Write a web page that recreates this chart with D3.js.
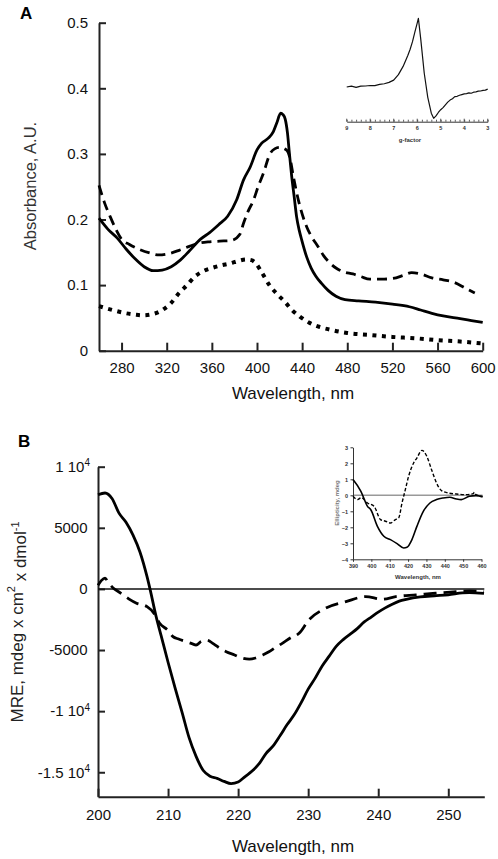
<!DOCTYPE html>
<html><head><meta charset="utf-8">
<script src="https://cdn.jsdelivr.net/npm/d3@7"></script>
<style>body{margin:0;background:#fff;} text{font-family:"Liberation Sans",Arial,sans-serif;}</style>
</head><body><script>
// ---------- Panel A : absorbance ----------
const solidA_x = [260,268,276,284,292,300,308,316,324,332,340,350,358,366,374,382,388,394,400,404,410,414.5,417.5,421,423,425,427,428.7,430.8,433,435.1,437.5,439.6,444,448,452,457,463,470,478,490,505,520,535,545,555,565,580,590,600];
const solidA_y = [0.202,0.185,0.172,0.155,0.14,0.128,0.122,0.123,0.128,0.138,0.152,0.17,0.18,0.192,0.205,0.23,0.26,0.28,0.306,0.316,0.324,0.334,0.347,0.362,0.36,0.353,0.332,0.301,0.265,0.234,0.204,0.183,0.169,0.143,0.126,0.114,0.103,0.092,0.083,0.078,0.076,0.074,0.071,0.067,0.062,0.057,0.053,0.049,0.046,0.043];
const dashA_x = [260,265,270,275,280,287,295,305,313,322,331,340,349,358,367,377,385,388,392,397,401,405.6,411.5,416,420,426,429,432.3,436.6,444,449,454,459,465,471,477,485,492,500,510,520,530,537,545,555,565,575,585,593];
const dashA_y = [0.252,0.225,0.204,0.185,0.17,0.162,0.155,0.149,0.146,0.148,0.153,0.159,0.164,0.166,0.167,0.168,0.178,0.194,0.212,0.23,0.25,0.27,0.3,0.308,0.31,0.306,0.295,0.265,0.23,0.189,0.172,0.159,0.145,0.133,0.125,0.12,0.117,0.113,0.109,0.109,0.11,0.115,0.119,0.117,0.111,0.108,0.104,0.095,0.088];
const dotA_x = [260,272,284,292,299,308,317,324,331,338,345,352,360,368,376,384,390,395,398,404,411,418,425,431,438,446,454,465,480,500,520,540,560,580,600];
const dotA_y = [0.068,0.062,0.057,0.055,0.054,0.056,0.063,0.073,0.088,0.1,0.113,0.121,0.126,0.13,0.133,0.137,0.139,0.138,0.135,0.12,0.1,0.086,0.074,0.062,0.052,0.043,0.037,0.032,0.027,0.024,0.021,0.019,0.016,0.014,0.011];
const ticksA_y = [0,0.1,0.2,0.3,0.4,0.5];
const ticksA_yLabels = ["0","0.1","0.2","0.3","0.4","0.5"];
const ticksA_x = [280,320,360,400,440,480,520,560,600];

// EPR inset
const epr_g = [9.0,8.8,8.6,8.4,8.2,8.0,7.8,7.6,7.4,7.2,7.0,6.8,6.6,6.4,6.3,6.2,6.1,6.0,5.95,5.85,5.7,5.55,5.4,5.3,5.2,5.1,5.0,4.9,4.8,4.7,4.6,4.5,4.4,4.3,4.2,4.1,4.0,3.9,3.8,3.7,3.6,3.5,3.4,3.3,3.2,3.1,3.0];
const epr_I = [0.0,0.012,-0.004,0.012,0.015,0.022,0.02,0.038,0.048,0.068,0.1,0.18,0.3,0.46,0.55,0.66,0.8,0.93,1.0,0.7,0.2,-0.15,-0.38,-0.455,-0.42,-0.37,-0.33,-0.3,-0.26,-0.22,-0.19,-0.17,-0.14,-0.135,-0.12,-0.11,-0.1,-0.095,-0.085,-0.09,-0.075,-0.07,-0.06,-0.058,-0.048,-0.045,-0.03];
const epr_ticks = [9,8,7,6,5,4,3];

// ---------- Panel B : CD far-UV ----------
const solidB_x = [200,201,202,203,204,205,206,207,207.5,208.3,209,210,211,212,213,214,215,216,217,218,219,220,221,222,223,224,225,226,227,228,229,230,231,232,233,234,235,236,237,238,239,240,241,242,243,244,246,248,250,252,253,255.1];
const solidB_y = [7700,7850,7400,6200,5450,4400,3000,1000,-200,-2270,-3800,-6000,-8100,-10100,-12170,-13700,-14840,-15330,-15500,-15750,-15930,-15800,-15350,-14900,-14300,-13450,-12850,-12000,-11100,-10300,-9300,-8200,-7300,-6300,-5500,-4700,-4150,-3700,-3250,-2700,-2300,-1900,-1550,-1250,-1000,-850,-650,-560,-490,-330,-300,-370];
const dashB_x = [200,200.5,201,201.5,202.2,203,203.6,204.5,205.5,207,208,208.8,210,210.7,211.5,212.6,213.5,214,214.7,215.5,216.5,217.5,218.3,219.5,220.5,221.6,222.5,223.5,224.4,225.3,226.3,227.5,228.7,230.1,232.5,235.4,238.2,240.6,242.5,245.4,248.2,251.1,253,255.1];
const dashB_y = [300,700,880,500,60,-250,-490,-850,-1170,-1450,-2000,-2810,-3400,-3900,-4100,-4320,-4500,-4590,-4300,-4180,-4500,-4900,-5140,-5400,-5650,-5750,-5650,-5400,-5140,-4800,-4450,-4000,-3630,-2540,-1580,-1040,-630,-840,-630,-490,-350,-220,-160,-220];
const ticksB_y = [10000,5000,0,-5000,-10000,-15000];
const ticksB_main = ["1 10","5000","0","-5000","-1 10","-1.5 10"];
const ticksB_sup = ["4","","","","4","4"];
const ticksB_x = [200,210,220,230,240,250];

// CD Soret inset
const insS_x = [390,394.3,397.9,399.7,403.3,406.8,410.4,414,417.6,419.4,422.1,424.8,428.3,431.9,435.5,439.1,442.7,446.3,449,453.4,457,460.6];
const insS_y = [0.98,0.25,-0.69,-0.9,-1.94,-2.56,-2.77,-3.02,-3.29,-3.25,-2.77,-1.94,-1.0,-0.48,-0.27,-0.17,-0.12,-0.23,-0.27,-0.06,-0.02,-0.1];
const insD_x = [390,392.5,394.5,397.9,401.5,405,407.7,410.4,413.1,414.9,416.7,418.5,420.3,423,424.8,427.5,430.2,432.8,435.5,438.2,441.8,446.3,451.7,455.5,456.1,457,460.6];
const insD_y = [-0.06,-0.27,-0.15,-0.48,-0.69,-1.52,-1.62,-1.73,-1.52,-1.41,-0.48,0.35,1.19,2.02,2.33,2.81,2.44,1.6,0.77,0.29,0.15,0.08,0.04,0.1,0.19,0.04,-0.06];
const insTicks_y = [3,2,1,0,-1,-2,-3,-4];
const insTicks_x = [390,400,410,420,430,440,450,460];

// ------------------------------------------------
const svg = d3.select("body").append("svg").attr("width",498).attr("height",859);
const AX = "#222";
function styleAxis(g, w){
  g.select(".domain").attr("stroke",AX).attr("stroke-width",w);
  g.selectAll(".tick line").attr("stroke",AX).attr("stroke-width",w);
  g.selectAll(".tick text").attr("fill","#111").attr("font-family",'"Liberation Sans",Arial,sans-serif');
}
const zip = (xs,ys)=>xs.map((x,i)=>[x,ys[i]]);

// ===== Panel A =====
const xA = d3.scaleLinear([260,600],[99,482.7]);
const yA = d3.scaleLinear([0,0.5],[350.7,22.7]);
const gAy = svg.append("g").attr("transform","translate(99,0)")
  .call(d3.axisLeft(yA).tickValues(ticksA_y).tickFormat((d,i)=>ticksA_yLabels[i]).tickSizeInner(-7).tickSizeOuter(0).tickPadding(11));
gAy.attr("font-size",15); styleAxis(gAy,2);
const gAx = svg.append("g").attr("transform","translate(0,350.7)")
  .call(d3.axisBottom(xA).tickValues(ticksA_x).tickFormat(d3.format("d")).tickSizeInner(-8).tickSizeOuter(0).tickPadding(12));
gAx.attr("font-size",15); styleAxis(gAx,2);

const lineA = d3.line().x(d=>xA(d[0])).y(d=>yA(d[1])).curve(d3.curveMonotoneX);
svg.append("path").attr("d",lineA(zip(solidA_x,solidA_y))).attr("fill","none").attr("stroke","#000").attr("stroke-width",2.8).attr("stroke-linejoin","round");
svg.append("path").attr("d",lineA(zip(dashA_x,dashA_y))).attr("fill","none").attr("stroke","#000").attr("stroke-width",2.8).attr("stroke-dasharray","10,6");
svg.append("path").attr("d",lineA(zip(dotA_x,dotA_y))).attr("fill","none").attr("stroke","#000").attr("stroke-width",4).attr("stroke-dasharray","4,5.5");

svg.append("text").attr("x",20).attr("y",18.5).attr("font-size",17).attr("font-weight","bold").text("A");
svg.append("text").attr("transform","translate(32,186) rotate(-90)").attr("text-anchor","middle").attr("dominant-baseline","middle")
  .attr("font-size",16.5).attr("fill","#333").text("Absorbance, A.U.");
svg.append("text").attr("x",293).attr("y",399).attr("text-anchor","middle").attr("font-size",17).attr("fill","#111").text("Wavelength, nm");

// EPR inset
const xE = d3.scaleLinear([9,3],[346.7,487.7]);
const yE = d3.scaleLinear([-0.5,1],[121.4,18.3]);
const gE = svg.append("g").attr("transform","translate(0,121.7)")
  .call(d3.axisBottom(xE).tickValues(d3.range(3,9.001,0.2)).tickFormat("").tickSizeInner(-2).tickSizeOuter(0));
gE.select(".domain").attr("stroke","#333").attr("stroke-width",1);
gE.selectAll(".tick line").attr("stroke","#333").attr("stroke-width",0.8);
svg.append("g").selectAll("text").data(epr_ticks).join("text")
  .attr("x",d=>xE(d)).attr("y",130).attr("text-anchor","middle").attr("font-size",5.5).attr("font-weight","bold").attr("fill","#333").text(d=>d);
svg.append("g").selectAll("line").data(epr_ticks).join("line")
  .attr("x1",d=>xE(d)).attr("x2",d=>xE(d)).attr("y1",121.7).attr("y2",118.7).attr("stroke","#333").attr("stroke-width",0.8);
svg.append("text").attr("x",410).attr("y",142).attr("text-anchor","middle").attr("font-size",6).attr("font-weight","bold").attr("fill","#333").text("g-factor");
const lineE = d3.line().x(d=>xE(d[0])).y(d=>yE(d[1]));
svg.append("path").attr("d",lineE(zip(epr_g,epr_I))).attr("fill","none").attr("stroke","#111").attr("stroke-width",1.2).attr("stroke-linejoin","round");

// ===== Panel B =====
const xB = d3.scaleLinear([200,255.14],[98,484.3]);
const yB = d3.scaleLinear([-17000,10000],[796.7,466.7]);
const gBy = svg.append("g").attr("transform","translate(98,0)")
  .call(d3.axisLeft(yB).tickValues(ticksB_y).tickFormat("").tickSizeInner(-7).tickSizeOuter(0));
styleAxis(gBy,2);
svg.append("g").selectAll("text").data(ticksB_y).join("text")
  .attr("x",(d,i)=>ticksB_sup[i]?90:87.5).attr("y",d=>yB(d)).attr("dy","0.35em").attr("text-anchor","end").attr("font-size",15).attr("fill","#111")
  .each(function(d,i){
    const t=d3.select(this);
    t.append("tspan").text(ticksB_main[i]);
    if(ticksB_sup[i]) t.append("tspan").attr("dy","-0.55em").attr("font-size",10).text(ticksB_sup[i]);
  });
const gBx = svg.append("g").attr("transform","translate(0,796.7)")
  .call(d3.axisBottom(xB).tickValues(ticksB_x).tickFormat(d3.format("d")).tickSizeInner(-8).tickSizeOuter(0).tickPadding(13));
gBx.attr("font-size",15); styleAxis(gBx,2);
// zero line
svg.append("line").attr("x1",xB(200)).attr("x2",xB(255.14)).attr("y1",yB(0)).attr("y2",yB(0)).attr("stroke","#111").attr("stroke-width",1.5);

const lineB = d3.line().x(d=>xB(d[0])).y(d=>yB(d[1])).curve(d3.curveMonotoneX);
svg.append("path").attr("d",lineB(zip(solidB_x,solidB_y))).attr("fill","none").attr("stroke","#000").attr("stroke-width",2.8).attr("stroke-linejoin","round");
svg.append("path").attr("d",lineB(zip(dashB_x,dashB_y))).attr("fill","none").attr("stroke","#000").attr("stroke-width",2.8).attr("stroke-dasharray","13,7");

svg.append("text").attr("x",18).attr("y",447).attr("font-size",17).attr("font-weight","bold").text("B");
const yl = svg.append("text").attr("transform","translate(18.5,622) rotate(-90)").attr("text-anchor","middle").attr("dominant-baseline","middle")
  .attr("font-size",17).attr("fill","#222");
yl.append("tspan").text("MRE, mdeg x cm");
yl.append("tspan").attr("dy","-0.6em").attr("font-size",11).text("2");
yl.append("tspan").attr("dy","0.6em").text(" x dmol");
yl.append("tspan").attr("dy","-0.6em").attr("font-size",11).text("-1");
svg.append("text").attr("x",293).attr("y",852).attr("text-anchor","middle").attr("font-size",17).attr("fill","#111").text("Wavelength, nm");

// CD Soret inset
const xI = d3.scaleLinear([390,460],[353,481.5]);
const yI = d3.scaleLinear([-4,3],[559.3,447.3]);
svg.append("line").attr("x1",xI(390)).attr("x2",xI(460)+1).attr("y1",yI(0)).attr("y2",yI(0)).attr("stroke","#999").attr("stroke-width",1.4);
const gIy = svg.append("g").attr("transform",`translate(${xI(390)},0)`)
  .call(d3.axisLeft(yI).tickValues(insTicks_y).tickFormat(d3.format("d")).tickSizeInner(2.5).tickSizeOuter(0).tickPadding(2.5));
gIy.select(".domain").attr("stroke","#333").attr("stroke-width",1);
gIy.selectAll(".tick line").attr("stroke","#333");
gIy.selectAll(".tick text").attr("font-size",5.5).attr("font-weight","bold").attr("fill","#333");
const gIx = svg.append("g").attr("transform",`translate(0,${yI(-4)})`)
  .call(d3.axisBottom(xI).tickValues(insTicks_x).tickFormat(d3.format("d")).tickSizeInner(2.5).tickSizeOuter(0).tickPadding(2.5));
gIx.select(".domain").attr("stroke","#333").attr("stroke-width",1);
gIx.selectAll(".tick line").attr("stroke","#333");
gIx.selectAll(".tick text").attr("font-size",5.5).attr("font-weight","bold").attr("fill","#333");
svg.append("text").attr("x",418).attr("y",579).attr("text-anchor","middle").attr("font-size",6).attr("font-weight","bold").attr("fill","#333").text("Wavelength, nm");
svg.append("text").attr("transform","translate(337,503) rotate(-90)").attr("text-anchor","middle").attr("dominant-baseline","middle")
  .attr("font-size",6).attr("font-weight","bold").attr("fill","#777").text("Ellipticity, mdeg");
const lineI = d3.line().x(d=>xI(d[0])).y(d=>yI(d[1])).curve(d3.curveMonotoneX);
svg.append("path").attr("d",lineI(zip(insS_x,insS_y))).attr("fill","none").attr("stroke","#000").attr("stroke-width",1.6);
svg.append("path").attr("d",lineI(zip(insD_x,insD_y))).attr("fill","none").attr("stroke","#000").attr("stroke-width",1.4).attr("stroke-dasharray","3.5,2");
</script></body></html>
